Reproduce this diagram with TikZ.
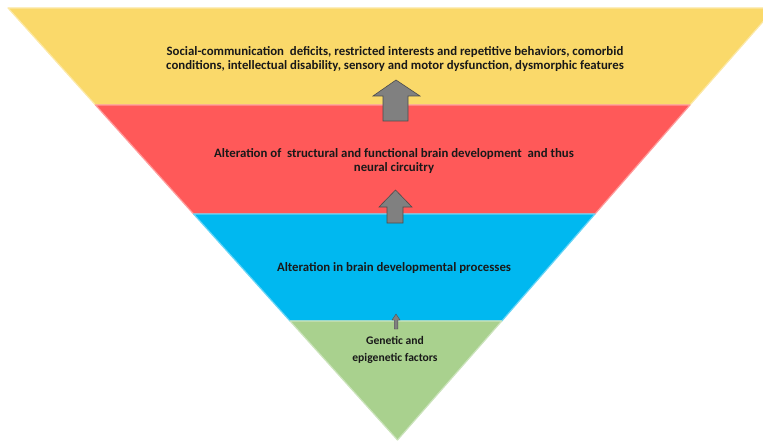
\documentclass[tikz,border=0pt]{standalone}
\usepackage{fontspec}
\setmainfont{Carlito}
\usepackage{xcolor}
\usetikzlibrary{calc,positioning}
\definecolor{bandyellow}{RGB}{250,217,106}
\definecolor{bandred}{RGB}{255,89,89}
\definecolor{bandblue}{RGB}{0,184,240}
\definecolor{bandgreen}{RGB}{169,209,142}
\definecolor{arrowgray}{RGB}{128,128,128}
\definecolor{textdark}{RGB}{25,25,25}
\tikzset{
    band/.style={line width=1.2pt, line join=round},
    bandtext/.style={align=center, font=\bfseries\fontsize{12.8}{14.5}\selectfont, text=textdark},
    blockarrow/.style={fill=arrowgray, draw=black!70, line width=0.6pt, line join=miter}
}

\begin{document}
\begin{tikzpicture}[x=1pt, y=-1pt]
    \useasboundingbox (0,0) rectangle (763,441);

    % Bands of the inverted triangle (top to bottom)
    \fill[bandyellow] (8,8) -- (775,8) -- (690,105) -- (95.5,105) -- cycle;
    \draw[band, draw=bandyellow!60!white] (8,8) -- (775,8) -- (690,105) -- (95.5,105) -- cycle;
    \fill[bandred] (95.5,105) -- (690,105) -- (595,214) -- (193.6,214) -- cycle;
    \draw[band, draw=bandred!60!white] (95.5,105) -- (690,105) -- (595,214) -- (193.6,214) -- cycle;
    \fill[bandblue] (193.6,214) -- (595,214) -- (501.8,321) -- (290,321) -- cycle;
    \draw[band, draw=bandblue!60!white] (193.6,214) -- (595,214) -- (501.8,321) -- (290,321) -- cycle;
    \fill[bandgreen] (290,321) -- (501.8,321) -- (397.5,440) -- cycle;
    \draw[band, draw=bandgreen!60!white] (290,321) -- (501.8,321) -- (397.5,440) -- cycle;

    % Band labels
    \node[bandtext] (symptoms) at (395,59) {Social-communication\ \ deficits, restricted interests and repetitive behaviors, comorbid\\
        conditions, intellectual disability, sensory and motor dysfunction, dysmorphic features};
    \node[bandtext] (circuitry) at (394,161) {Alteration of\ \ structural and functional brain development\ \ and thus\\
        neural circuitry};
    \node[bandtext] (processes) at (394,268) {Alteration in brain developmental processes};
    \node[bandtext, font=\bfseries\fontsize{11.6}{17}\selectfont] (factors) at (395,349.5) {Genetic and\\
        epigenetic factors};

    % Upward block arrows between bands
    \draw[blockarrow] (383,121) -- (383,96) -- (373,96) -- (396,80) -- (420,96) -- (408,96) -- (408,121) -- cycle;
    \draw[blockarrow] (387,223) -- (387,207) -- (379,207) -- (395.5,190) -- (412,207) -- (403,207) -- (403,223) -- cycle;
    \draw[blockarrow, line width=0.4pt] (394.2,329) -- (394.2,320) -- (392,320) -- (396,314) -- (400,320) -- (397.8,320) -- (397.8,329) -- cycle;

\end{tikzpicture}
\end{document}
